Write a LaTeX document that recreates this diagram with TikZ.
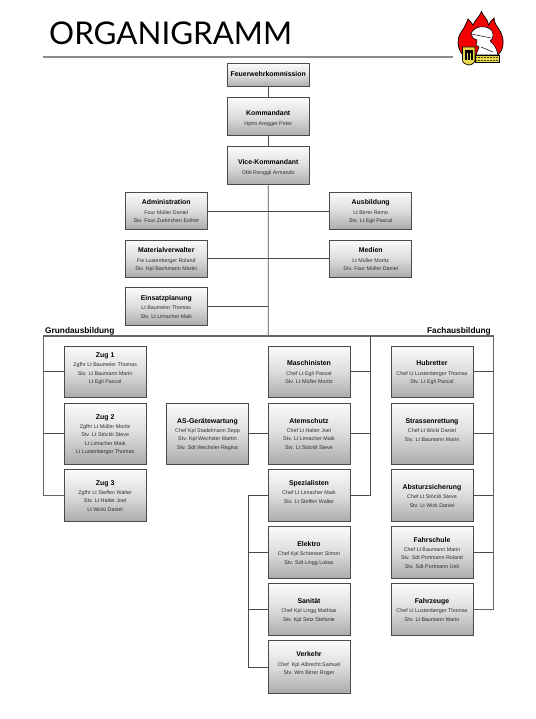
\documentclass[tikz,border=0pt]{standalone}
\usepackage{fontspec}
\setmainfont{Liberation Sans}
\newfontfamily\titlefont{Lato}
\definecolor{edgeC}{HTML}{4A4A4A}
\definecolor{subC}{HTML}{2E2E2E}
\definecolor{rulerC}{HTML}{8C8C8C}
\definecolor{boxTop}{HTML}{FBFBFB}
\definecolor{boxMid}{HTML}{DCDCDC}
\definecolor{boxBot}{HTML}{ABABAB}
\definecolor{flameC}{HTML}{F40000}
\definecolor{shieldC}{HTML}{E8D84A}
\tikzset{
  x=1pt,y=-1pt,
  orgbox/.style={draw=edgeC,line width=1pt,top color=boxTop,bottom color=boxBot,middle color=boxMid,
     inner sep=0pt,align=center,text=subC,anchor=center},
  wire/.style={draw=edgeC,line width=0.8pt},
  heading/.style={inner sep=0pt,text=black,font=\fontsize{8.3}{10}\selectfont\bfseries}
}
% name, x0,y0,x1,y1, title, lines, extra space under the text
\newcommand{\bx}[8]{%
  \pgfmathsetmacro{\bxW}{#4-#2}\pgfmathsetmacro{\bxH}{#5-#3}%
  \node[orgbox,minimum width=\bxW pt,minimum height=\bxH pt] (#1) at ({(#2+#4)/2},{(#3+#5)/2})
   {\fontsize{5.35}{8.35}\selectfont\setlength{\tabcolsep}{0pt}\begin{tabular}{c}%
     {\color{black}\fontsize{6.9}{8.35}\selectfont\bfseries #6}\\[1pt]#7\\[#8pt]\end{tabular}};}
\begin{document}
\begin{tikzpicture}
\useasboundingbox (0,0) rectangle (535,719);
\fill[white] (0,0) rectangle (535,719);
% title
\node[inner sep=0pt,anchor=west,text=black,font=\titlefont\fontsize{31.3}{33}\selectfont] (title) at (49,33) {ORGANIGRAMM};
\coordinate (ruleL) at (43,57);\coordinate (ruleR) at (453,57);
\draw[rulerC,line width=1.4pt] (ruleL) -- (ruleR);
% logo
\fill[flameC,draw=black,line width=0.7pt] (481.5,11.5) .. controls (483,16) and (488,19) .. (488.5,25) .. controls (490,22) and (492,20) .. (494,18) .. controls (494,24) and (498,27) .. (500,31) .. controls (504,38) and (505,48) .. (498,55) -- (475,60) -- (464,56) .. controls (459,52) and (457,44) .. (458.5,38) .. controls (460,32) and (464,29) .. (465,26) .. controls (466,24) and (467,21) .. (468,19) .. controls (470,21) and (472,23) .. (473,25) .. controls (475,20) and (480,16) .. (481.5,11.5) -- cycle;
\fill[white,draw=black,line width=0.6pt] (471,34) .. controls (473,26) and (487,24) .. (492,31) .. controls (494,35) and (493,39) .. (490,41) .. controls (494,44) and (497,49) .. (498,55) -- (476,55) -- (479,47) -- (476,45) -- (477,40) -- (473,38) -- cycle;
\draw[black,line width=0.5pt] (471,34) -- (491,38);
\draw[black,line width=0.5pt] (481,47) -- (493,52);
\fill[shieldC,draw=black,line width=0.7pt] (462.5,47) -- (475,47) -- (475,60) .. controls (475,63) and (471,65) .. (468.8,65) .. controls (466,65) and (462.5,63) .. (462.5,60) -- cycle;
\fill[black] (465,50) rectangle (473,60);
\fill[shieldC] (467,53) rectangle (468.3,60);
\fill[shieldC] (470,53) rectangle (471.3,60);
\fill[shieldC,draw=black,line width=0.3pt] (475,55) rectangle (499,62.5);
\draw[black!70!shieldC,line width=0.9pt,dash pattern=on 1pt off 0.5pt] (476,57) -- (498,57);
\draw[black!70!shieldC,line width=0.9pt,dash pattern=on 1pt off 0.5pt] (476,60.3) -- (498,60.3);
% boxes
\bx{kom}{227.5}{64}{309}{87}{Feuerwehrkommission}{}{-8}
\bx{kdt}{227.5}{98}{309}{136}{Kommandant}{Hptm Aregger Peter}{-4}
\bx{vice}{227.5}{147}{309}{185}{Vice-Kommandant}{Oblt Renggli Armando}{-4}
\bx{admin}{125.3}{192.3}{207.3}{229.7}{Administration}{Four Müller Daniel\\Stv. Four Zurkirchen Esther}{-2}
\bx{mat}{125.3}{240}{207.3}{277.7}{Materialverwalter}{Fw Lustenberger Roland\\Stv. Kpl Bachmann Martin}{-2}
\bx{eins}{125.3}{287.7}{207.3}{325.7}{Einsatzplanung}{Lt Baumeler Thomas\\Stv. Lt Limacher Maik}{-2}
\bx{ausb}{329.7}{192.3}{411.7}{229.7}{Ausbildung}{Lt Birrer Remo\\Stv. Lt Egli Pascal}{-2}
\bx{med}{329.7}{240}{411.7}{277.7}{Medien}{Lt Müller Moritz\\Stv. Four Müller Daniel}{-2}
\bx{zug1}{64}{346}{146.3}{397.7}{Zug 1}{Zgfhr Lt Baumeler Thomas\\Stv. Lt Baumann Marin\\Lt Egli Pascal}{6}
\bx{zug2}{64}{403.3}{146.3}{464}{Zug 2}{Zgfhr Lt Müller Moritz\\Stv. Lt Stöckli Steve\\Lt Limacher Maik\\Lt Lustenberger Thomas}{-2}
\bx{zug3}{64}{469.3}{146.3}{521.7}{Zug 3}{Zgfhr Lt Steffen Walter\\Stv. Lt Halter Joel\\Lt Wicki Daniel}{-2}
\bx{asg}{166.3}{403.3}{248.7}{464}{AS-Gerätewartung}{Chef Kpl Stadelmann Sepp\\Stv. Kpl Wechsler Martin\\Stv. Sdt Wechsler Regina}{-2}
\bx{masch}{268}{346}{350}{397.7}{Maschinisten}{Chef Lt Egli Pascal\\Stv. Lt Müller Moritz}{-2}
\bx{atem}{268}{403.3}{350}{464}{Atemschutz}{Chef Lt Halter Joel\\Stv. Lt Limacher Maik\\Stv. Lt Stöckli Steve}{-2}
\bx{spez}{268}{469.3}{350}{521.7}{Spezialisten}{Chef Lt Limacher Maik\\Stv. Lt Steffen Walter}{6}
\bx{elek}{268}{526.3}{350}{578.7}{Elektro}{Chef Kpl Schiesser Simon\\Stv. Sdt Lingg Lukas}{-2}
\bx{san}{268}{583.3}{350}{635.7}{Sanität}{Chef Kpl Lingg Mathias\\Stv. Kpl Setz Stefanie}{-2}
\bx{verk}{268}{640.7}{350}{693.3}{Verkehr}{Chef~ Kpl Albrecht Samuel\\Stv. Wm Birrer Roger}{6}
\bx{hub}{391}{346}{473}{397.7}{Hubretter}{Chef Lt Lustenberger Thomas\\Stv. Lt Egli Pascal}{-2}
\bx{str}{391}{403.3}{473}{464}{Strassenrettung}{Chef Lt Wicki Daniel\\Stv. Lt Baumann Marin}{6}
\bx{abs}{391}{469.3}{473}{521.7}{Absturzsicherung}{Chef Lt Stöckli Steve\\Stv. Lt Wick Daniel}{-2}
\bx{fs}{391}{526.3}{473}{578.7}{Fahrschule}{Chef Lt Baumann Marin\\Stv. Sdt Portmann Roland\\Stv. Sdt Portmann Ueli}{-2}
\bx{fz}{391}{583.3}{473}{635.7}{Fahrzeuge}{Chef Lt Lustenberger Thomas\\Stv. Lt Baumann Marin}{-2}
% headings
\node[heading,anchor=west] (grund) at (45,331) {Grundausbildung};
\node[heading,anchor=east] (fach) at (491,331) {Fachausbildung};
% bus coordinates
\coordinate (busL) at (43.3,336);
\coordinate (busT) at (268.2,336);
\coordinate (busM) at (370.3,336);
\coordinate (busR) at (493.3,336);
\coordinate (colS) at (248.3,500);
% connectors
\draw[wire] (kom) -- (kdt);
\draw[wire] (kdt) -- (vice);
\draw[wire] (vice.south) -- (busT);
\draw[wire] (admin.east) -- (ausb.west);
\draw[wire] (mat.east) -- (med.west);
\draw[wire] (eins.east) -- (eins.east -| busT);
\draw[wire,line width=1.1pt,draw=edgeC!85!white] (zug3.west) -| (busL) -- (busR) |- (fz.east);
\draw[wire] (zug1.west) -- (zug1.west -| busL);
\draw[wire] (zug2.west) -- (zug2.west -| busL);
\draw[wire] (busM) |- (spez.east);
\draw[wire] (masch.east) -- (masch.east -| busM);
\draw[wire] (atem.east) -- (atem.east -| busM);
\draw[wire] (asg.east) -- (atem.west);
\draw[wire] (spez.west) -| (colS) |- (verk.west);
\draw[wire] (elek.west) -- (elek.west -| colS);
\draw[wire] (san.west) -- (san.west -| colS);
\draw[wire] (hub.east) -- (hub.east -| busR);
\draw[wire] (str.east) -- (str.east -| busR);
\draw[wire] (abs.east) -- (abs.east -| busR);
\draw[wire] (fs.east) -- (fs.east -| busR);
\end{tikzpicture}
\end{document}
